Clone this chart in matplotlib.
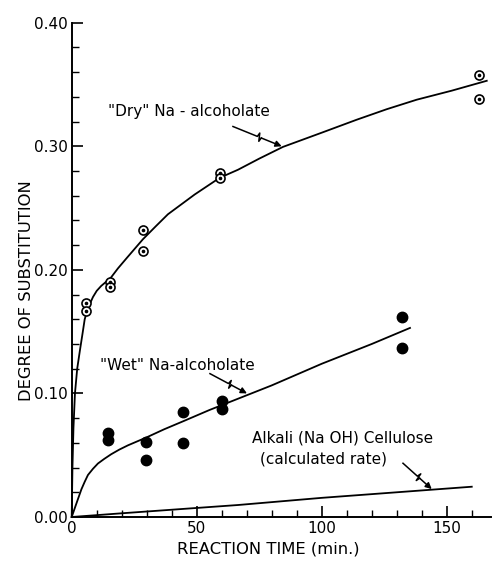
import matplotlib
matplotlib.use("Agg")
import matplotlib.pyplot as plt
import numpy as np
from matplotlib.ticker import MultipleLocator, FormatStrFormatter

plt.rcParams['font.family'] = ['DejaVu Sans']

# Data points: "Dry" Na-alcoholate (open circles with dot)
dry_t = [5.7, 5.7, 15.3, 15.3, 28.6, 28.6, 59.3, 59.3, 163, 163]
dry_ds = [0.173, 0.167, 0.190, 0.186, 0.232, 0.215, 0.278, 0.274, 0.358, 0.338]

# "Wet" Na-alcoholate (filled circles)
wet_t = [14.7, 14.7, 29.7, 29.7, 44.7, 44.7, 60, 60, 132, 132]
wet_ds = [0.068, 0.062, 0.061, 0.046, 0.085, 0.060, 0.094, 0.087, 0.162, 0.137]

# Fitted curves
dry_curve_t = [0, 0.3, 0.7, 1.3, 2.2, 3.3, 4.3, 5.2, 6.5, 8.5, 10, 11.8, 15.6, 18.5,
               21.9, 28.5, 33.5, 38.5, 49.2, 59.2, 66.5, 75, 84.5, 100, 114, 126, 138, 152, 166]
dry_curve_ds = [0.0, 0.040, 0.072, 0.100, 0.120, 0.135, 0.148, 0.160, 0.169, 0.178, 0.183,
                0.187, 0.1935, 0.2012, 0.2093, 0.2248, 0.235, 0.245, 0.261, 0.2745, 0.281,
                0.290, 0.2995, 0.311, 0.3215, 0.330, 0.3377, 0.345, 0.353]

wet_curve_t = [0, 1.2, 2.5, 3.9, 5.2, 6.5, 8.5, 10.5, 13, 15.8, 19, 22.5, 29.8, 37, 45.2,
               55, 66.5, 80, 100, 120, 135.3]
wet_curve_ds = [0.0, 0.007, 0.0145, 0.0225, 0.0285, 0.034, 0.039, 0.0433, 0.047, 0.0508,
                0.0545, 0.058, 0.0643, 0.071, 0.078, 0.0865, 0.0957, 0.1065, 0.124, 0.140, 0.153]

alk_t = [0, 20, 66.5, 100, 160]
alk_ds = [0.0, 0.003, 0.0097, 0.0155, 0.0245]

xticks_major = [0, 50, 100, 150]
yticks_major = [0.00, 0.10, 0.20, 0.30, 0.40]

W, H = 492, 561
fig = plt.figure(figsize=(W / 100, H / 100), dpi=100)
left = 71.7 / W
bottom = 1 - 517 / H
ax = fig.add_axes([left, bottom, (491 - 71.7) / W, (517 - 22.7) / H])
ax.set_xlim(0, 167.7)
ax.set_ylim(0, 0.40)

for s in ['top', 'right']:
    ax.spines[s].set_visible(False)
for s in ['left', 'bottom']:
    ax.spines[s].set_linewidth(1.4)

ax.set_xticks(xticks_major)
ax.set_yticks(yticks_major)
ax.xaxis.set_minor_locator(MultipleLocator(10))
ax.yaxis.set_minor_locator(MultipleLocator(0.02))
ax.yaxis.set_major_formatter(FormatStrFormatter('%.2f'))
ax.tick_params(which='major', direction='in', length=8, width=1.2, labelsize=11, pad=3)
ax.tick_params(which='minor', direction='in', length=5, width=1.0)

# Curves
lw = 1.3
ax.plot(dry_curve_t, dry_curve_ds, color='black', lw=lw, clip_on=False)
ax.plot(wet_curve_t, wet_curve_ds, color='black', lw=lw, clip_on=False)
ax.plot(alk_t, alk_ds, color='black', lw=lw, clip_on=False)

# Markers
ax.plot(dry_t, dry_ds, linestyle='none', marker='o', markersize=6.5,
        markerfacecolor='white', markeredgecolor='black', markeredgewidth=1.2, clip_on=False, zorder=3)
ax.plot(dry_t, dry_ds, linestyle='none', marker='o', markersize=1.6,
        color='black', clip_on=False, zorder=4)
ax.plot(wet_t, wet_ds, linestyle='none', marker='o', markersize=7.5,
        color='black', clip_on=False, zorder=3)

# Text labels
fs = 11
ax.text(14.5, 0.328, '"Dry" Na - alcoholate', fontsize=fs, ha='left', va='center')
ax.text(11.3, 0.1226, '"Wet" Na-alcoholate', fontsize=fs, ha='left', va='center')
ax.text(72, 0.0637, 'Alkali (Na OH) Cellulose', fontsize=fs, ha='left', va='center')
ax.text(75.3, 0.0468, '(calculated rate)', fontsize=fs, ha='left', va='center')


def zigzag_arrow(ax, start, tip):
    """Draw a leader line with a small zigzag break and arrowhead."""
    trans = ax.transData
    p0 = np.array(trans.transform(start))
    p1 = np.array(trans.transform(tip))
    d = p1 - p0
    L = np.hypot(*d)
    u = d / L
    n = np.array([-u[1], u[0]])
    a = p0 + u * L * 0.50
    b = p0 + u * L * 0.58
    pts = np.array([p0, a, a + n * 4 + u * 1, b - n * 4 - u * 1, b])
    inv = trans.inverted()
    dp = inv.transform(pts)
    ax.plot(dp[:, 0], dp[:, 1], color='black', lw=1.1, clip_on=False)
    ax.annotate('', xy=tip, xytext=tuple(inv.transform(b)),
                arrowprops=dict(arrowstyle='-|>', color='black', lw=1.1,
                                mutation_scale=9, shrinkA=0, shrinkB=0))


zigzag_arrow(ax, (64.5, 0.316), (84.0, 0.300))
zigzag_arrow(ax, (55.3, 0.116), (70.1, 0.100))
zigzag_arrow(ax, (132.5, 0.0435), (144.0, 0.0226))

# Axis labels
fig.text(27 / W, 1 - 291 / H, 'DEGREE OF SUBSTITUTION', rotation=90, fontsize=11.8,
         ha='center', va='center')
fig.text(268 / W, 1 - 549 / H, 'REACTION TIME (min.)', fontsize=11.8,
         ha='center', va='center')

fig.savefig('out.png', dpi=100)
